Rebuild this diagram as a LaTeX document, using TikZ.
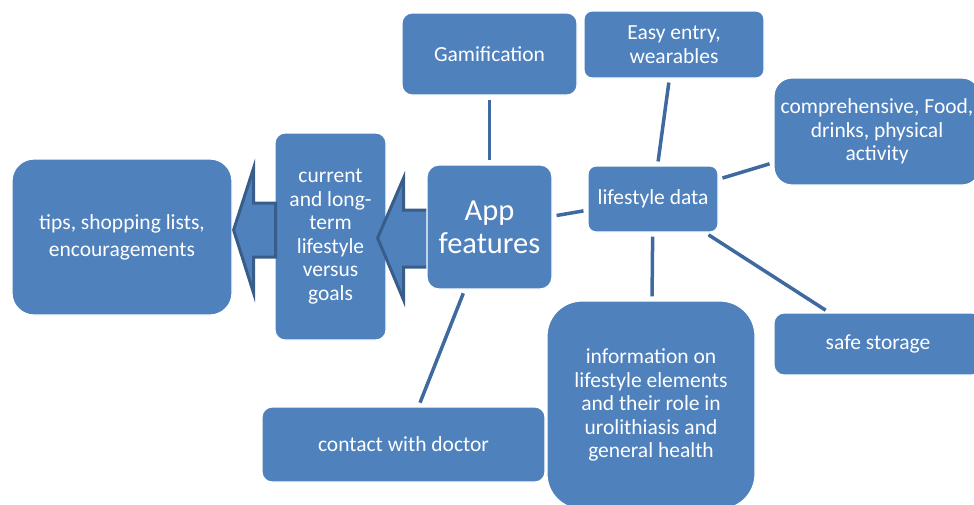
\documentclass[tikz,border=0pt]{standalone}
\usepackage{fontspec}
\setmainfont{Carlito}
\usetikzlibrary{calc}
\definecolor{boxblue}{RGB}{79,129,189}
\definecolor{linkblue}{RGB}{62,106,160}
\definecolor{arrowrim}{RGB}{56,93,138}
\begin{document}
\begin{tikzpicture}[x=1pt, y=-1pt,
  box/.style={draw=white, line width=1.2pt, fill=boxblue, text=white, align=center, inner sep=0pt, font=\fontsize{21.5}{23.5}\selectfont},
  link/.style={draw=linkblue, line width=3.5pt, shorten <=4pt, shorten >=4pt},
  fatarrow/.style={draw=arrowrim, fill=boxblue, line width=3pt, line join=miter}]
\clip (0,0) rectangle (974,504);
\node[box, minimum width=220, minimum height=156, rounded corners=22, font=\fontsize{21.5}{27}\selectfont] (tips) at (122,237) {tips, shopping lists,\\encouragements};
\node[box, minimum width=111, minimum height=207, rounded corners=10] (current) at (330.5,236.5) {current\\and long-\\term\\lifestyle\\versus\\goals};
% block arrows pointing left
\draw[fatarrow] ($(tips.east)+(1,-7)$) -- ++(20,-62) -- ++(0,35) -- ++(22,0) -- ++(0,54) -- ++(-22,0) -- ++(0,36) -- cycle;
\draw[fatarrow] ($(current.east)+(-9,1.5)$) -- ++(26,-60) -- ++(0,32) -- ++(26,0) -- ++(0,57) -- ++(-26,0) -- ++(0,33) -- cycle;
\node[box, minimum width=125, minimum height=124, rounded corners=12, font=\fontsize{30.5}{33}\selectfont] (app) at (489.5,227) {App\\features};
\node[box, minimum width=175, minimum height=82, rounded corners=10] (gam) at (489.5,54) {Gamification};
\node[box, minimum width=180, minimum height=67, rounded corners=8] (easy) at (674,44.5) {Easy entry,\\wearables};
\node[box, minimum width=206, minimum height=107, rounded corners=18] (comp) at (877,131.5) {comprehensive, Food,\\drinks, physical\\activity};
\node[box, minimum width=130, minimum height=66, rounded corners=8] (life) at (653,199) {lifestyle data};
\node[box, minimum width=208, minimum height=62, rounded corners=10] (safe) at (878,344) {safe storage};
\node[box, minimum width=208, minimum height=208, rounded corners=35] (info) at (651,405) {information on\\lifestyle elements\\and their role in\\urolithiasis and\\general health};
\node[box, minimum width=283, minimum height=75, rounded corners=10] (contact) at (403.5,444.5) {contact with doctor};
% connectors
\draw[link] (gam) -- (app);
\draw[link] (easy) -- (life);
\draw[link] (life) -- (comp);
\draw[link] (app) -- (life);
\draw[link] (life) -- (info);
\draw[link] (life) -- (safe);
\draw[link] (app) -- (contact);
\end{tikzpicture}
\end{document}
